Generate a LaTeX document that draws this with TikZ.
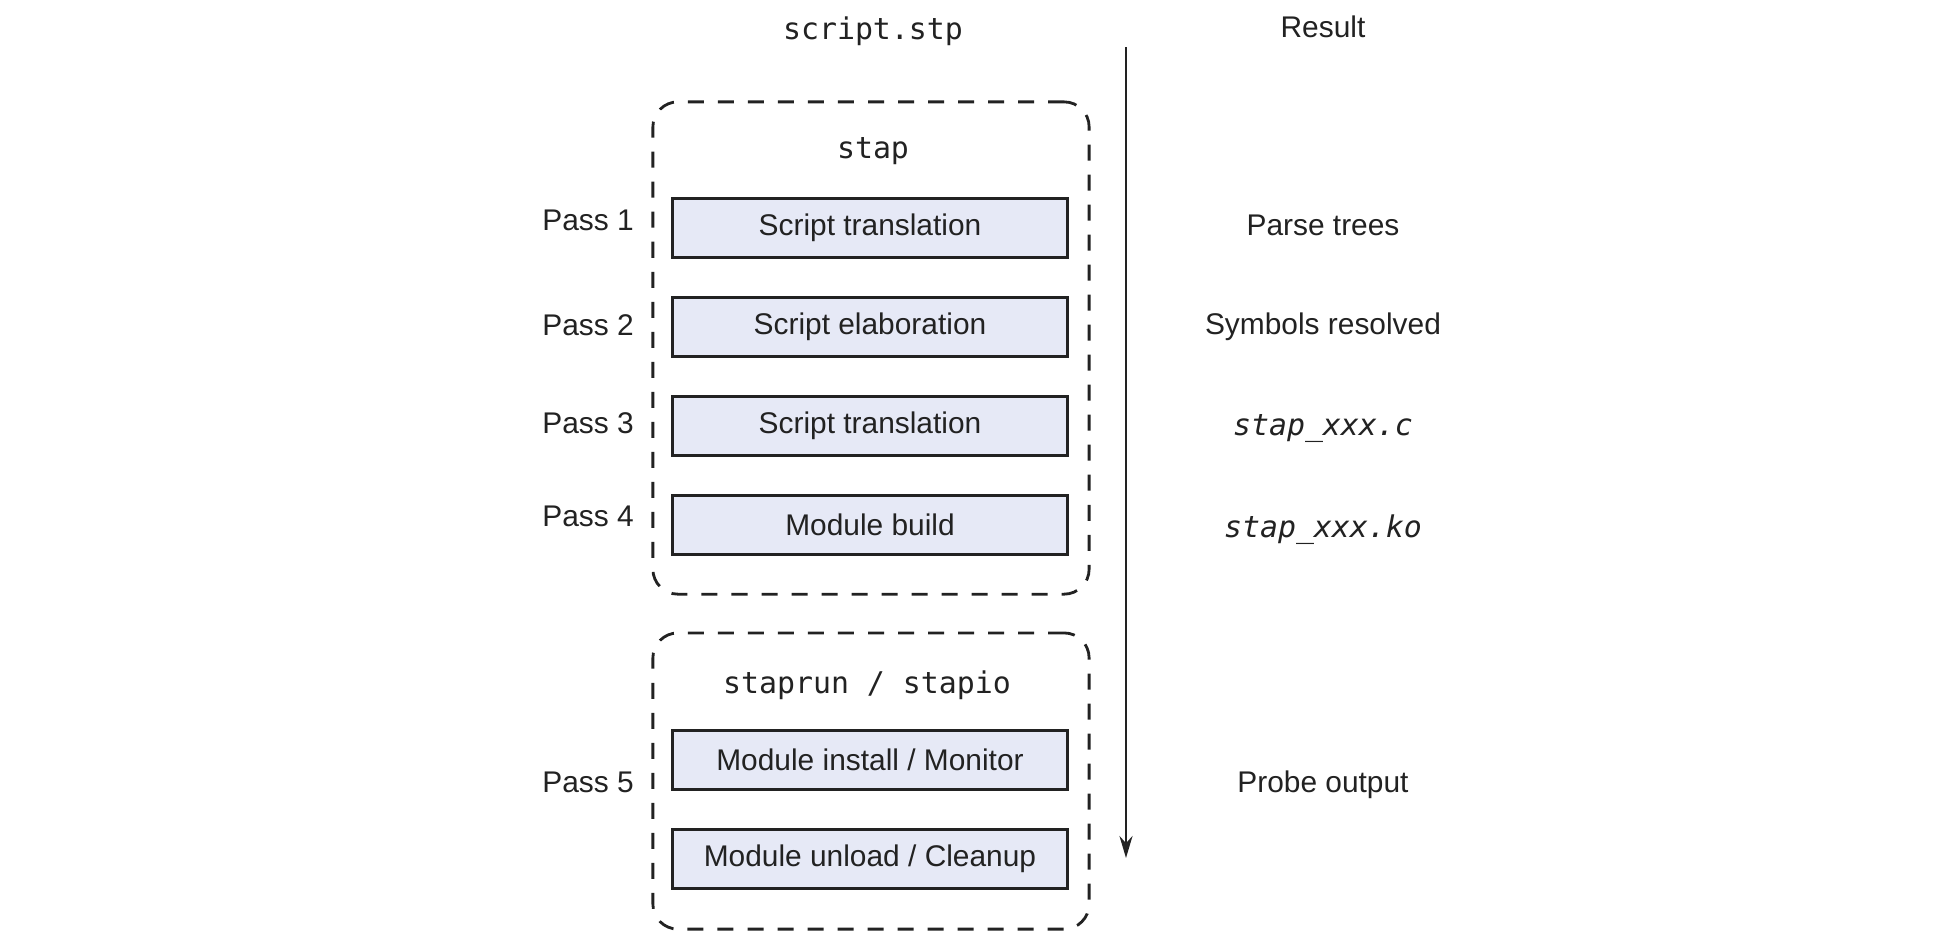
\documentclass[tikz,border=0pt]{standalone}
\usepackage{fontspec}
\setsansfont{Liberation Sans}
\setmonofont{DejaVu Sans Mono}
\usepackage{tikz}
\usetikzlibrary{positioning}
\usetikzlibrary{arrows.meta}
\definecolor{passfill}{HTML}{E6E9F6}
\definecolor{inkgray}{HTML}{222222}
\newcommand{\diagsize}{\fontsize{8.5}{10}\selectfont}
\tikzstyle{pass} = [rectangle,draw=inkgray,fill=passfill,line width=0.8pt,minimum width=3.94cm,minimum height=0.59cm,inner sep=0pt,font=\sffamily\diagsize,node distance=0.37cm]
\tikzstyle{lbl} = [inner sep=0pt,font=\sffamily\diagsize]
\tikzstyle{prog} = [inner sep=0pt,font=\ttfamily\diagsize]
\tikzstyle{progit} = [inner sep=0pt,font=\ttfamily\itshape\diagsize]
\tikzstyle{group} = [rectangle,draw=inkgray,line width=0.8pt,dash pattern=on 1.6mm off 1.4mm,rounded corners=2.5mm,minimum width=4.36cm,inner sep=0pt]
\tikzstyle{flow} = [-{Stealth[length=2.2mm,width=1.3mm]},draw=inkgray,line width=0.7pt]

\begin{document}
\begin{tikzpicture}[x=0.01cm,y=-0.01cm,text=inkgray]
	\useasboundingbox (0,0) rectangle (1944,950);
	\node[prog] (input) at (873,31) {script.stp};
	\node[lbl] (result) at (1323,27) {Result};

	% stap: passes 1-4
	\node[group,minimum height=4.92cm] (stapgrp) at (871,348) {};
	\node[prog] (stap) at (873,151) {stap};
	\node[pass] (p1) at (870,228) {Script translation};
	\node[pass,below=of p1] (p2) {Script elaboration};
	\node[pass,below=of p2] (p3) {Script translation};
	\node[pass,below=of p3] (p4) {Module build};

	% staprun / stapio: pass 5
	\node[group,minimum height=2.96cm] (rungrp) at (871,781) {};
	\node[prog] (runtool) at (867,685) {staprun / stapio};
	\node[pass] (p5a) at (870,760) {Module install / Monitor};
	\node[pass,below=of p5a] (p5b) {Module unload / Cleanup};

	\node[lbl,left=0.37cm of p1,yshift=0.08cm] (pass1) {Pass 1};
	\node[lbl,left=0.37cm of p2,yshift=0.02cm] (pass2) {Pass 2};
	\node[lbl,left=0.37cm of p3,yshift=0.03cm] (pass3) {Pass 3};
	\node[lbl,left=0.37cm of p4,yshift=0.08cm] (pass4) {Pass 4};
	\node[lbl,left=0.37cm of p5a,yshift=-0.22cm] (pass5) {Pass 5};

	\node[lbl] (res1) at (1323,225) {Parse trees};
	\node[lbl] (res2) at (1323,327) {Symbols resolved};
	\node[progit] (res3) at (1323,429) {stap\_xxx.c};
	\node[progit] (res4) at (1323,530) {stap\_xxx.ko};
	\node[lbl] (res5) at (1323,785) {Probe output};

	\coordinate (flowtop) at (1126,47);
	\coordinate (flowend) at (1126,858);
	\draw[flow] (flowtop) -- (flowend);
\end{tikzpicture}
\end{document}
